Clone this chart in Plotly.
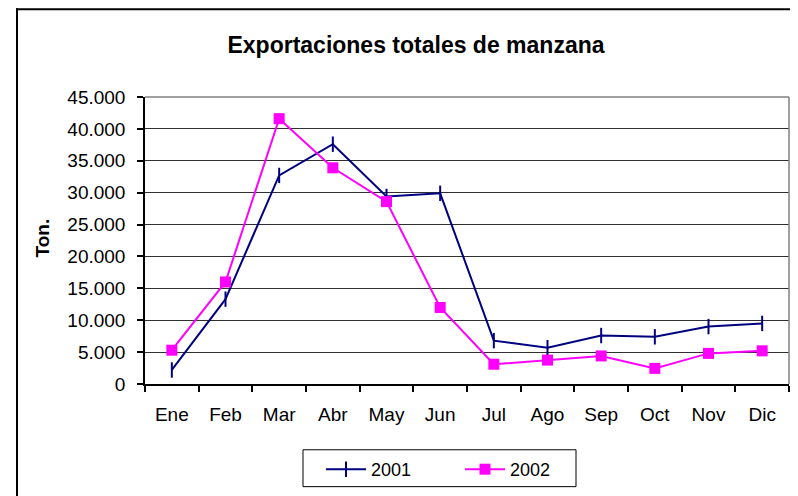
import plotly.graph_objects as go

months = ["Ene", "Feb", "Mar", "Abr", "May", "Jun", "Jul", "Ago", "Sep", "Oct", "Nov", "Dic"]
exp_2001 = [2200, 13300, 32700, 37600, 29400, 29900, 6800, 5700, 7600, 7400, 9000, 9500]
exp_2002 = [5300, 16000, 41600, 33900, 28600, 12000, 3100, 3750, 4400, 2450, 4800, 5200]
y_tick_vals = [0, 5000, 10000, 15000, 20000, 25000, 30000, 35000, 40000, 45000]
y_tick_text = ["0", "5.000", "10.000", "15.000", "20.000", "25.000", "30.000", "35.000", "40.000", "45.000"]

FONT = "Liberation Sans, Arial, sans-serif"
OFF = 8  # page body margin
W, H = 798 - OFF, 496 - OFF
PL, PR, PT, PB = 145 - OFF, 789 - OFF, 97 - OFF, 385 - OFF  # plot area pixels (figure coords)


def px_x(p):
    return (p - OFF - PL) / (PR - PL)


def px_y(p):
    return (PB - (p - OFF)) / (PB - PT)


fig = go.Figure()
fig.add_trace(go.Scatter(
    x=months, y=exp_2001, name="2001", mode="lines+markers",
    line=dict(color="#000080", width=2),
    marker=dict(symbol="line-ns", size=11, line=dict(color="#000080", width=2)),
))
fig.add_trace(go.Scatter(
    x=months, y=exp_2002, name="2002", mode="lines+markers",
    line=dict(color="#FF00FF", width=2),
    marker=dict(symbol="square", size=11, color="#FF00FF"),
))

shapes = [
    # outer chart frame (left and top edges)
    dict(type="line", xref="paper", yref="paper", x0=px_x(17), x1=px_x(17), y0=px_y(OFF), y1=px_y(510),
         line=dict(color="#000000", width=2)),
    dict(type="line", xref="paper", yref="paper", x0=px_x(16), x1=px_x(810), y0=px_y(OFF + 1), y1=px_y(OFF + 1),
         line=dict(color="#000000", width=2)),
    # plot area top and right border (gray)
    dict(type="line", xref="paper", yref="paper", x0=0, x1=1, y0=1, y1=1,
         line=dict(color="#808080", width=1.5), layer="above"),
    dict(type="line", xref="paper", yref="paper", x0=1, x1=1, y0=0, y1=1,
         line=dict(color="#808080", width=1.5), layer="above"),
    # legend box
    dict(type="rect", xref="paper", yref="paper", x0=px_x(303), x1=px_x(576), y0=px_y(451), y1=px_y(488),
         line=dict(color="#000000", width=1), fillcolor="rgba(0,0,0,0)"),
]

fig.update_layout(
    width=W, height=H,
    margin=dict(l=PL, r=W - PR, t=PT, b=H - PB),
    paper_bgcolor="white", plot_bgcolor="white",
    font=dict(family=FONT, size=19, color="#000000"),
    title=dict(text="<b>Exportaciones totales de manzana</b>", x=(416 - OFF) / W, xref="container",
               xanchor="center", y=1 - (45 - OFF) / H, yref="container", yanchor="middle",
               font=dict(family=FONT, size=23, color="#000000")),
    showlegend=True,
    legend=dict(orientation="h", x=px_x(321), xanchor="left", y=px_y(469.5), yanchor="middle",
                font=dict(family=FONT, size=18), bgcolor="rgba(0,0,0,0)", borderwidth=0,
                entrywidth=84, entrywidthmode="pixels", itemwidth=40),
    shapes=shapes,
    annotations=[dict(text="<b>Ton.</b>", textangle=-90, xref="paper", yref="paper",
                      x=px_x(43), y=px_y(239), showarrow=False, xanchor="center", yanchor="middle",
                      font=dict(family=FONT, size=19, color="#000000"))],
)

fig.update_xaxes(
    type="category", range=[-0.5, 11.5], showgrid=False, zeroline=False,
    showline=True, linecolor="#000000", linewidth=1.5,
    ticks="outside", tickson="boundaries", ticklen=6, tickcolor="#000000", tickwidth=1.5,
    ticklabelstandoff=12, tickfont=dict(family=FONT, size=19),
)
fig.update_yaxes(
    range=[0, 45000], tickvals=y_tick_vals, ticktext=y_tick_text,
    showgrid=True, gridcolor="#303030", gridwidth=1, zeroline=False,
    showline=True, linecolor="#000000", linewidth=1.5,
    ticks="outside", ticklen=6, tickcolor="#000000", tickwidth=1.5,
    ticklabelstandoff=8, tickfont=dict(family=FONT, size=19),
)

fig.write_html("out.html")
